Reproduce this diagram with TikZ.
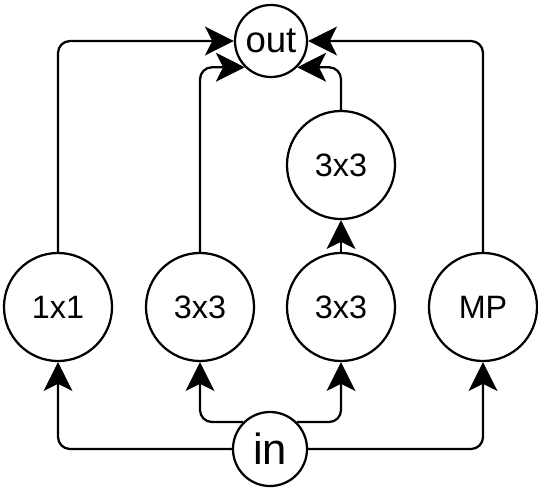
\documentclass[tikz,border=0pt]{standalone}
\usepackage{fontspec}
\setmainfont{Liberation Sans}
\usetikzlibrary{arrows.meta}

\tikzset{
  op/.style={draw, circle, line width=1.6pt, minimum size=2.7cm, inner sep=0pt, font=\fontsize{23}{23}\selectfont},
  io/.style={op, minimum size=1.8cm},
  link/.style={line width=1.6pt, rounded corners=0.3cm, -{Stealth[length=0.72cm, width=0.72cm, inset=0.18cm]}},
}

\begin{document}
\begin{tikzpicture}[x=0.025cm, y=-0.025cm]
  \useasboundingbox (0,0) rectangle (538,494);

  % Input and output
  \node[io, font=\fontsize{26}{26}\selectfont] (out) at (271,41) {out};
  \node[io, minimum size=1.85cm, font=\fontsize{31}{31}\selectfont] (in) at (270,449) {in};

  % Branches
  \node[op] (conv1) at (58,307) {1x1};
  \node[op] (conv3a) at (200,307) {3x3};
  \node[op] (conv3b) at (341,307) {3x3};
  \node[op] (conv3c) at (341,165) {3x3};
  \node[op] (pool) at (483,307) {MP};

  % From input
  \draw[link] (in) -| (conv1);
  \draw[link] (in) -| (pool);
  \draw[link] (in.north west) -| (conv3a);
  \draw[link] (in.north east) -| (conv3b);
  \draw[link] (conv3b) -- (conv3c);

  % To output
  \draw[link] (conv1) |- (out);
  \draw[link] (pool) |- (out);
  \draw[link] (conv3a) |- (out.south west);
  \draw[link] (conv3c) |- (out.south east);
\end{tikzpicture}
\end{document}
